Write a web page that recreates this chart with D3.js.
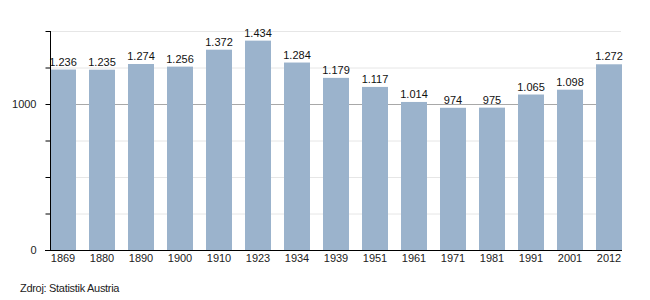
<!DOCTYPE html>
<html><head><meta charset="utf-8">
<script src="https://cdn.jsdelivr.net/npm/d3@7"></script>
<style>body{margin:0;background:#fff}svg{display:block}text{font-family:"Liberation Sans",Arial,sans-serif}</style>
</head><body><svg id="c" width="650" height="300"></svg>
<script>
const years = ["1869","1880","1890","1900","1910","1923","1934","1939","1951","1961","1971","1981","1991","2001","2012"];
const population = [1236,1235,1274,1256,1372,1434,1284,1179,1117,1014,974,975,1065,1098,1272];
const valueLabels = ["1.236","1.235","1.274","1.256","1.372","1.434","1.284","1.179","1.117","1.014","974","975","1.065","1.098","1.272"];
const majorTicks = [0,1000];
const minorTicks = [250,500,750,1250,1500];
const source = "Zdroj: Statistik Austria";

const svg = d3.select("#c");
const x = d3.scaleBand().domain(years).range([50,622]).paddingInner(1/3).paddingOuter(0);
const y = d3.scaleLinear().domain([0,1500]).range([250,31]);

// gridlines
svg.append("g").selectAll("line").data(minorTicks).join("line")
  .attr("x1",50).attr("x2",621).attr("y1",d=>y(d)+0.5).attr("y2",d=>y(d)+0.5)
  .attr("stroke","#e6e6e6").attr("stroke-width",1);
svg.append("g").selectAll("line").data([1000]).join("line")
  .attr("x1",50).attr("x2",621).attr("y1",d=>Math.round(y(d))+0.5).attr("y2",d=>Math.round(y(d))+0.5)
  .attr("stroke","#a8a8a8").attr("stroke-width",1);

// bars
svg.append("g").selectAll("rect").data(population).join("rect")
  .attr("x",(d,i)=>x(years[i])).attr("width",x.bandwidth())
  .attr("y",d=>y(d)).attr("height",d=>y(0)-y(d))
  .attr("fill","#9bb3cc");

// value labels
svg.append("g").selectAll("text").data(population).join("text")
  .attr("x",(d,i)=>x(years[i])+x.bandwidth()/2).attr("y",d=>y(d)-4)
  .attr("text-anchor","middle").attr("font-size",11).attr("fill","#111")
  .text((d,i)=>valueLabels[i]);

// y axis
const ya = d3.axisLeft(y).tickValues(majorTicks.concat(minorTicks)).tickSize(5)
  .tickFormat(d=>majorTicks.includes(d)?String(d):"");
const yg = svg.append("g").attr("transform","translate(50.5,0)").call(ya);
yg.select(".domain").attr("d",`M0,${y(1500)}V${y(0)}`).attr("stroke","#000");
yg.selectAll(".tick line").attr("stroke","#000");
yg.selectAll(".tick text").attr("font-size",11).attr("fill","#222").attr("font-family","Liberation Sans, Arial, sans-serif").attr("dx",-6);

// x axis
const xa = d3.axisBottom(x).tickSize(0).tickPadding(4);
const xg = svg.append("g").attr("transform","translate(0,250.5)").call(xa);
xg.select(".domain").attr("d","M45,0H622").attr("stroke","#000");
xg.selectAll(".tick text").attr("font-size",11).attr("fill","#222").attr("font-family","Liberation Sans, Arial, sans-serif");

svg.append("text").attr("x",20).attr("y",292).attr("font-size",11).attr("letter-spacing",-0.3).attr("fill","#222").text(source);
</script></body></html>
